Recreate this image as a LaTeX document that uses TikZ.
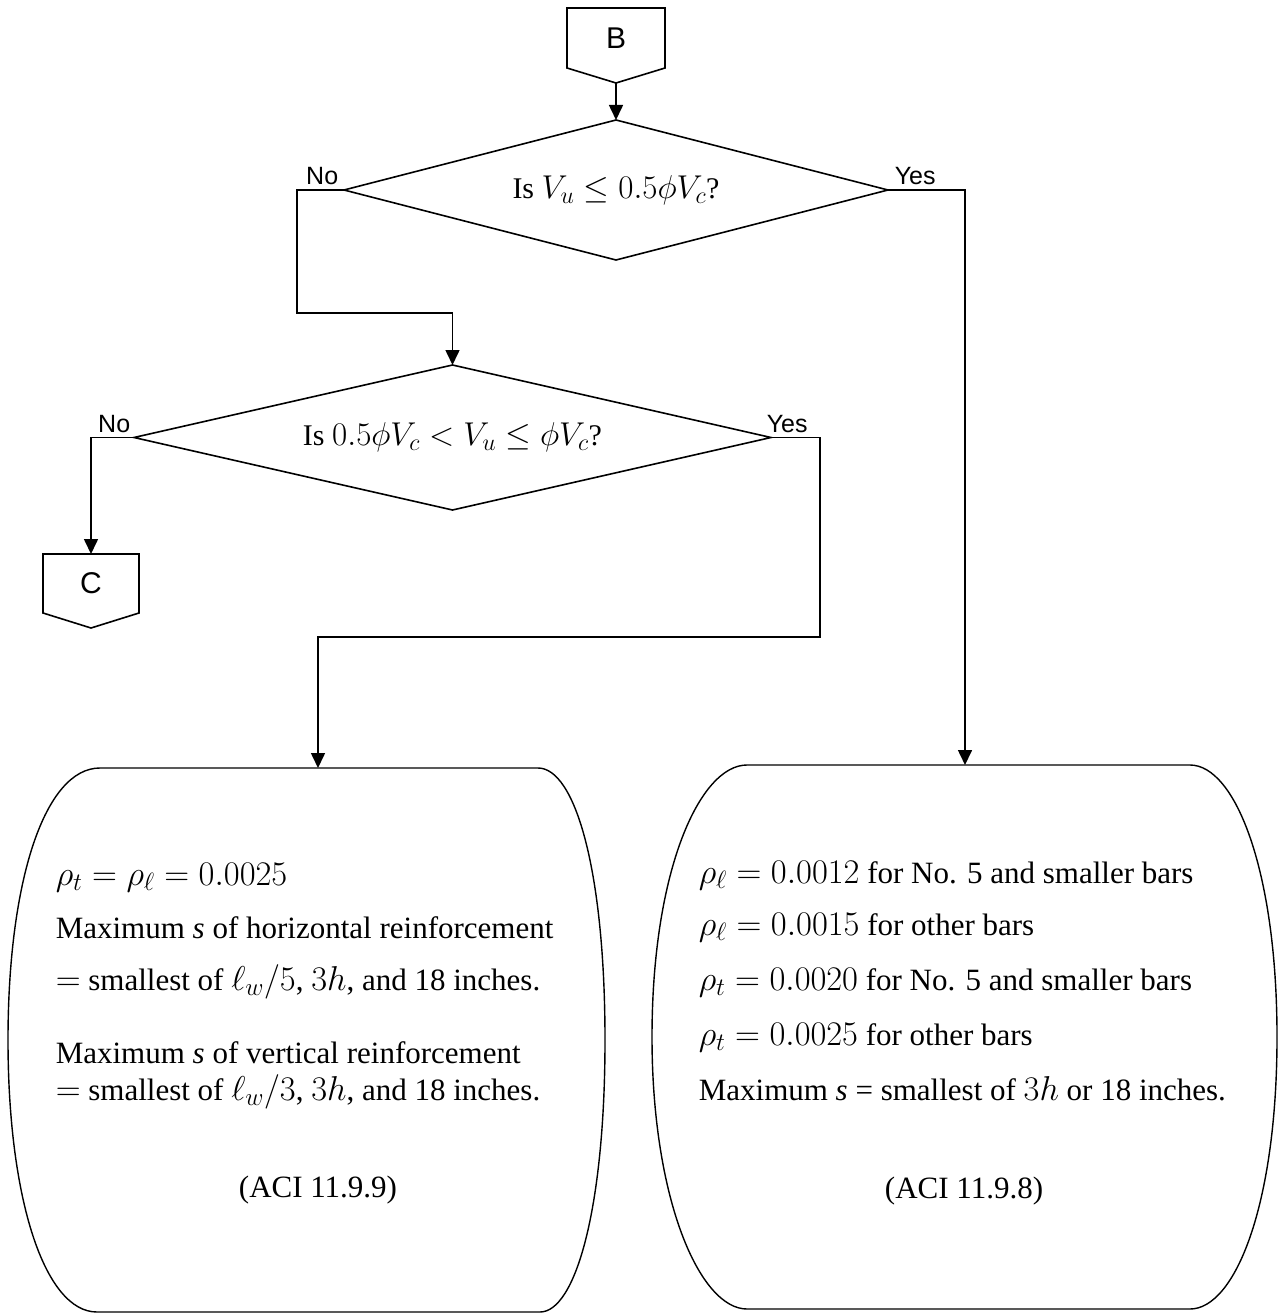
\RequirePackage{fix-cm}
\documentclass[tikz,border=0pt]{standalone}
\usepackage{fontspec}
\setmainfont{Liberation Serif}
\newfontfamily\labelfont{Liberation Sans}
\usetikzlibrary{arrows.meta,calc}
\DeclareMathSizes{31}{34.5}{25}{19}
\DeclareMathSizes{30}{33}{24}{18}
\begin{document}
\begin{tikzpicture}[x=1pt,y=-1pt,line width=1.6pt,
  conn/.style={-{Triangle[length=15pt,width=14pt]}},
  area/.style={draw=none,inner sep=0pt,outer sep=0pt},
  offtxt/.style={area,font=\labelfont\fontsize{30}{36}\selectfont},
  dectxt/.style={area,font=\fontsize{30}{36}\selectfont},
  lbl/.style={inner sep=0pt,font=\labelfont\fontsize{25}{30}\selectfont},
  body/.style={inner sep=0pt,anchor=base west,font=\fontsize{31}{37}\selectfont},
  outline/.style={line width=1.4pt}
]
\useasboundingbox (0,0) rectangle (1279,1313);

% off-page connector B
\node[offtxt,minimum width=98pt,minimum height=60pt] (B) at (616,38) {B};
\draw (B.north west) -- (B.north east) -- (B.south east)
  -- ($(B.south)+(0,15)$) coordinate (Btip) -- (B.south west) -- cycle;

% decision 1
\node[dectxt,minimum width=544pt,minimum height=140pt] (d1) at (616,190)
  {Is $V_u \leq 0.5\phi V_c$?};
\draw (d1.north) -- (d1.east) -- (d1.south) -- (d1.west) -- cycle;

% decision 2
\node[dectxt,minimum width=637pt,minimum height=145pt] (d2) at (452.5,437.5)
  {Is $0.5\phi V_c < V_u \leq \phi V_c$?};
\draw (d2.north) -- (d2.east) -- (d2.south) -- (d2.west) -- cycle;

% off-page connector C
\node[offtxt,minimum width=96pt,minimum height=59pt] (C) at (91,583.5) {C};
\draw (C.north west) -- (C.north east) -- (C.south east)
  -- ($(C.south)+(0,15)$) -- (C.south west) -- cycle;

% left process box
\node[area,minimum width=620pt,minimum height=544pt] (lb) at (318,1040) {};
\draw[outline] (100,768) -- (538,768)
  .. controls (575,768) and (605,870) .. (605,1040)
  .. controls (605,1210) and (575,1312) .. (540,1312)
  -- (97,1312)
  .. controls (45,1312) and (8,1200) .. (8,1040)
  .. controls (8,880) and (45,768) .. (100,768) -- cycle;

% right process box
\node[area,minimum width=626pt,minimum height=544pt] (rb) at (965,1037) {};
\draw[outline] (747,765) -- (1190,765)
  .. controls (1235,765) and (1277,870) .. (1277,1037)
  .. controls (1277,1205) and (1235,1309) .. (1190,1309)
  -- (747,1309)
  .. controls (700,1309) and (652,1200) .. (652,1037)
  .. controls (652,870) and (700,765) .. (747,765) -- cycle;

% labels
\node[lbl,anchor=base east] (no1) at (339,185) {No};
\node[lbl,anchor=base west] (yes1) at (894,185) {Yes};
\node[lbl,anchor=base east] (no2) at (131,432) {No};
\node[lbl,anchor=base west] (yes2) at (766,432) {Yes};

% connectors
\draw[conn] (Btip) -- (d1.north);
\draw[conn] (d1.west) -- ++(-47,0) |- ($(d2.north)+(0,-52)$) -- (d2.north);
\draw[conn] (d1.east) -| (rb.north);
\draw[conn] (d2.west) -| (C.north);
\draw[conn] (d2.east) -- ++(49,0) |- ($(lb.north)+(0,-131)$) -- (lb.north);

% left box text
\node[body] (l1) at (55,885) {$\rho_t = \rho_\ell = 0.0025$};
\node[body] (l2) at (55,938) {Maximum \textit{s} of horizontal reinforcement};
\node[body] (l3) at (55,990) {$=$ smallest of $\ell_w/5$, $3h$, and 18 inches.};
\node[body] (l4) at (55,1063) {Maximum \textit{s} of vertical reinforcement};
\node[body] (l5) at (55,1100) {$=$ smallest of $\ell_w/3$, $3h$, and 18 inches.};
\node[body,anchor=base] (lref) at (318,1197) {(ACI 11.9.9)};

% right box text
\node[body] (r1) at (698,883) {$\rho_\ell = 0.0012$ for No. 5 and smaller bars};
\node[body] (r2) at (698,935) {$\rho_\ell = 0.0015$ for other bars};
\node[body] (r3) at (698,990) {$\rho_t = 0.0020$ for No. 5 and smaller bars};
\node[body] (r4) at (698,1045) {$\rho_t = 0.0025$ for other bars};
\node[body] (r5) at (698,1100) {Maximum \textit{s} = smallest of $3h$ or 18 inches.};
\node[body,anchor=base] (rref) at (964,1198) {(ACI 11.9.8)};
\end{tikzpicture}
\end{document}
